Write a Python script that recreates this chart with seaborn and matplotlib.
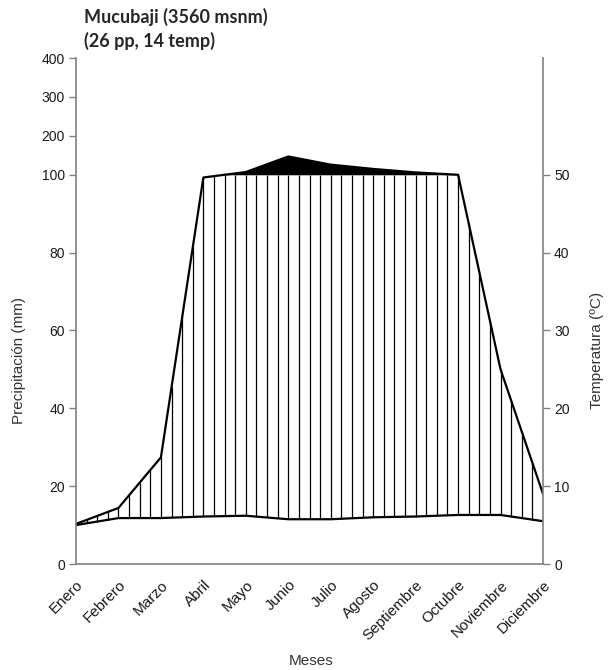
import numpy as np
import pandas as pd
import matplotlib
matplotlib.use("Agg")
import matplotlib.pyplot as plt
import seaborn as sns

meses = ["Enero", "Febrero", "Marzo", "Abril", "Mayo", "Junio", "Julio",
         "Agosto", "Septiembre", "Octubre", "Noviembre", "Diciembre"]
precipitacion = [10.3, 14.4, 27.4, 99.3, 107, 147, 126, 115, 106, 100, 50, 18]
temperatura = [5.0, 5.9, 5.9, 6.1, 6.2, 5.75, 5.75, 6.0, 6.1, 6.3, 6.3, 5.5]
ticks_pp = [0, 20, 40, 60, 80, 100, 200, 300, 400]
ticks_t = [0, 10, 20, 30, 40, 50]


def escala(p):
    p = np.asarray(p, float)
    return np.where(p <= 100, p, 100 + (p - 100) / 10)


sns.set_style("white")
plt.rcParams['font.family'] = ['Liberation Sans', 'DejaVu Sans']

fig = plt.figure(figsize=(6.12, 6.70), dpi=100)
ax = fig.add_axes([76 / 612, 106 / 670, 467 / 612, 506 / 670])

x = np.arange(len(meses))
df = pd.DataFrame({"mes": x, "p": escala(precipitacion), "t": np.array(temperatura) * 2})

# vertical hatching (humid period)
xs = np.arange(0, len(meses) - 1 + 1e-9, 0.25)
top = np.minimum(np.interp(xs, df.mes, df.p), 100)
bot = np.interp(xs, df.mes, df.t)
ax.vlines(xs, bot, top, color='black', lw=0.9)

# black fill above 100 mm
xf = np.linspace(0, len(meses) - 1, 600)
pf = np.interp(xf, df.mes, df.p)
ax.fill_between(xf, 100, pf, where=pf > 100, color='black', lw=0)

sns.lineplot(data=df, x='mes', y='p', color='black', lw=1.6, ax=ax)
sns.lineplot(data=df, x='mes', y='t', color='black', lw=1.6, ax=ax)

ax.set_xlim(0, len(meses) - 1)
ax.set_ylim(0, 130)
ax.set_yticks(escala(ticks_pp))
ax.set_yticklabels([str(t) for t in ticks_pp], fontsize=10)
ax.set_xticks(x)
ax.set_xticklabels(meses, rotation=45, ha='right', rotation_mode='anchor', fontsize=11)
ax.set_xlabel('')
ax.set_ylabel('')

ax2 = ax.twinx()
ax2.set_ylim(0, 65)
ax2.set_yticks(ticks_t)
ax2.set_yticklabels([str(t) for t in ticks_t], fontsize=10)

for a in (ax, ax2):
    a.spines['top'].set_visible(False)
    for s in ('left', 'right', 'bottom'):
        a.spines[s].set_color('#808080')
        a.spines[s].set_linewidth(1.2)
    a.tick_params(axis='both', direction='out', length=5, width=1, color='#808080',
                  labelcolor='#1a1a1a', pad=3)
ax.tick_params(axis='x', pad=5)
ax.spines['right'].set_visible(False)
ax2.spines['left'].set_visible(False)
ax2.spines['bottom'].set_visible(False)

fig.text(19 / 612, 1 - 361 / 670, 'Precipitación (mm)', rotation=90, ha='center', va='center',
         fontsize=11, color='#333333')
fig.text(597 / 612, 1 - 350 / 670, 'Temperatura (ºC)', rotation=90, ha='center', va='center',
         fontsize=11, color='#333333')
fig.text(311 / 612, 1 - 661 / 670, 'Meses', ha='center', va='center', fontsize=11, color='#333333')

fig.text(84 / 612, 1 - 23 / 670, 'Mucubaji (3560 msnm)', fontsize=13, fontweight='bold',
         family=['Lato', 'DejaVu Sans'], va='baseline')
fig.text(84 / 612, 1 - 47 / 670, '(26 pp, 14 temp)', fontsize=13, fontweight='bold',
         family=['Lato', 'DejaVu Sans'], va='baseline')

fig.savefig('out.png', dpi=100)
